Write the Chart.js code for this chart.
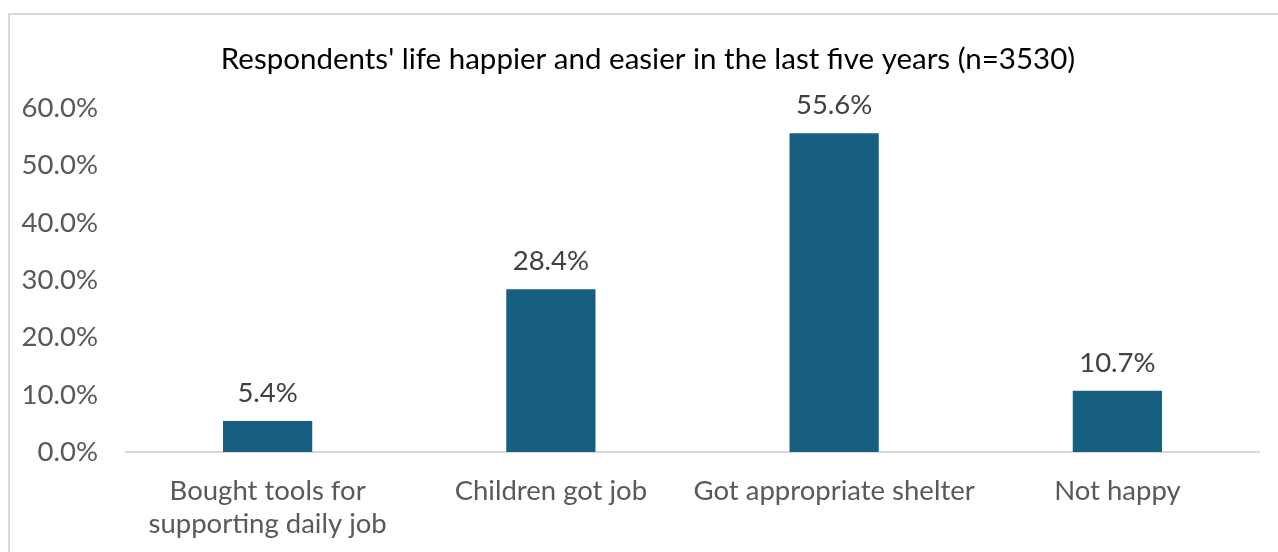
<!DOCTYPE html>
<html>
<head>
<meta charset="utf-8">
<script src="https://cdn.jsdelivr.net/npm/chart.js@4/dist/chart.umd.min.js"></script>
<style>
  html, body { margin: 0; padding: 0; background: #fff; overflow: hidden; }
  #frame {
    position: absolute; left: 8px; top: 13px;
    width: 1300px; height: 600px;
    border: 2px solid #d9d9d9; box-sizing: border-box;
  }
  #wrap { position: absolute; left: 0; top: 0; width: 1278px; height: 552px; }
</style>
</head>
<body>
<div id="frame"></div>
<div id="wrap"><canvas id="chart"></canvas></div>
<script>
// Survey answers, share of respondents (%)
const categories = [
  ['Bought tools for', 'supporting daily job'],
  'Children got job',
  'Got appropriate shelter',
  'Not happy',
];
const shares = [5.4, 28.4, 55.6, 10.7];
const yTicks = [0, 10, 20, 30, 40, 50, 60];
const titleText = "Respondents' life happier and easier in the last five years (n=3530)";

const FONT = 'Lato, "Open Sans", sans-serif';
const BAR_COLOR = '#175f80';

// Draws the value above each bar
const valueLabels = {
  id: 'valueLabels',
  afterDatasetsDraw(chart) {
    const { ctx } = chart;
    const meta = chart.getDatasetMeta(0);
    ctx.save();
    ctx.font = `27.5px ${FONT}`;
    ctx.fillStyle = '#404040';
    ctx.textAlign = 'center';
    ctx.textBaseline = 'middle';
    meta.data.forEach((bar, i) => {
      const v = chart.data.datasets[0].data[i];
      ctx.fillText(v.toFixed(1) + '%', bar.x, bar.y - 28);
    });
    ctx.restore();
  },
};

// Title centred on the framed area rather than on the canvas
const frameTitle = {
  id: 'frameTitle',
  afterDraw(chart) {
    const { ctx } = chart;
    ctx.save();
    ctx.font = `29.5px ${FONT}`;
    ctx.fillStyle = '#000';
    ctx.textAlign = 'center';
    ctx.textBaseline = 'middle';
    ctx.fillText(titleText, 648, 59);
    ctx.restore();
  },
};

new Chart(document.getElementById('chart'), {
  type: 'bar',
  data: {
    labels: categories,
    datasets: [{
      data: shares,
      backgroundColor: BAR_COLOR,
      barPercentage: 0.315,
      categoryPercentage: 1,
    }],
  },
  options: {
    responsive: true,
    maintainAspectRatio: false,
    animation: false,
    layout: { padding: { left: 0, right: 19, top: 108, bottom: 0 } },
    plugins: {
      legend: { display: false },
      tooltip: { enabled: false },
      title: { display: false },
    },
    scales: {
      x: {
        grid: { display: false, drawTicks: false },
        border: { display: true, color: '#d9d9d9', width: 2 },
        ticks: {
          color: '#595959',
          font: { family: FONT, size: 27.5, lineHeight: 1.2 },
          maxRotation: 0,
          autoSkip: false,
          padding: 23,
        },
        afterFit(scale) { scale.height = 100; },
      },
      y: {
        min: 0,
        max: 60,
        grid: { display: false, drawTicks: false },
        border: { display: false },
        afterBuildTicks(scale) { scale.ticks = yTicks.map(v => ({ value: v })); },
        ticks: {
          color: '#595959',
          font: { family: FONT, size: 27.5 },
          padding: 28,
          callback: v => v.toFixed(1) + '%',
        },
        afterFit(scale) { scale.width = 126; },
      },
    },
  },
  plugins: [valueLabels, frameTitle],
});
</script>
</body>
</html>
